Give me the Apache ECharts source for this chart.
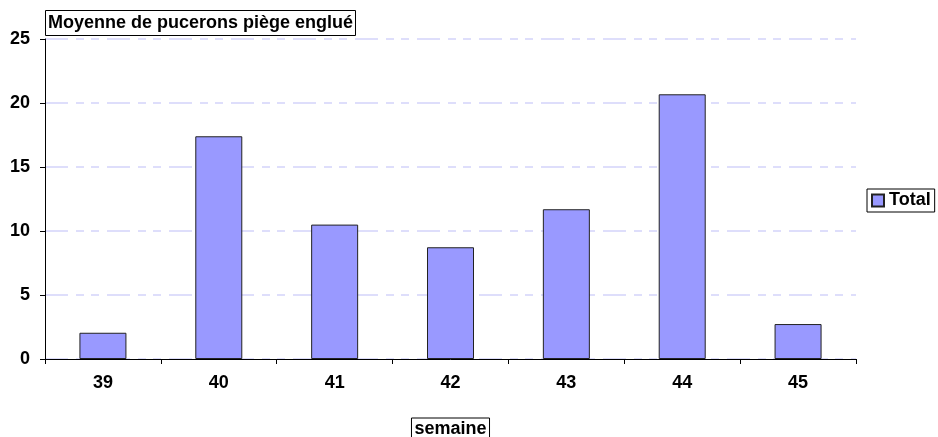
<!DOCTYPE html>
<html>
<head>
<meta charset="utf-8">
<script src="https://cdn.jsdelivr.net/npm/echarts@6/dist/echarts.min.js"></script>
<style>
html,body{margin:0;padding:0;background:#fff;overflow:hidden;}
#c{width:938px;height:437px;}
</style>
</head>
<body>
<div id="c"></div>
<script>
const categories = ['39', '40', '41', '42', '43', '44', '45'];
const totalValues = [2.05, 17.4, 10.5, 8.73, 11.7, 20.68, 2.73];
const yTicks = [0, 5, 10, 15, 20, 25];
const titleText = 'Moyenne de pucerons piège englué';
const xAxisName = 'semaine';
const seriesName = 'Total';

const FONT = '"Liberation Sans", Arial, sans-serif';
const chart = echarts.init(document.getElementById('c'), null, {renderer: 'canvas', width: 938, height: 437});
chart.setOption({
  animation: false,
  backgroundColor: '#ffffff',
  title: {
    text: titleText,
    left: 45,
    top: 10,
    padding: [4, 3, 3, 3],
    borderColor: '#000',
    borderWidth: 1,
    backgroundColor: '#fff',
    textStyle: {fontFamily: FONT, fontWeight: 'bold', fontSize: 18, lineHeight: 19, color: '#000'}
  },
  legend: {
    data: [seriesName],
    left: 867,
    top: 189,
    orient: 'vertical',
    padding: [2, 4, 2, 4],
    borderColor: '#000',
    borderWidth: 1,
    icon: 'rect',
    itemWidth: 12,
    itemHeight: 12,
    itemGap: 0,
    textStyle: {fontFamily: FONT, fontWeight: 'bold', fontSize: 18, lineHeight: 19, color: '#000'}
  },
  grid: {left: 45, top: 39, width: 811, height: 320, containLabel: false, outerBoundsMode: 'none'},
  xAxis: {
    type: 'category',
    data: categories,
    name: xAxisName,
    nameLocation: 'middle',
    nameGap: 59,
    nameTextStyle: {
      fontFamily: FONT, fontWeight: 'bold', fontSize: 18, lineHeight: 19, color: '#000',
      borderColor: '#000', borderWidth: 1, padding: [2, 3, 2, 3]
    },
    axisLine: {lineStyle: {color: '#000', width: 1}},
    axisTick: {show: true, length: 5, lineStyle: {color: '#000'}},
    axisLabel: {fontFamily: FONT, fontWeight: 'bold', fontSize: 18, color: '#000', margin: 15}
  },
  yAxis: {
    type: 'value',
    min: 0,
    max: 25,
    interval: 5,
    axisLine: {show: true, lineStyle: {color: '#000', width: 1}},
    axisTick: {show: true, length: 5, lineStyle: {color: '#000'}},
    axisLabel: {fontFamily: FONT, fontWeight: 'bold', fontSize: 18, color: '#000', margin: 15,
      formatter: v => yTicks.includes(v) ? String(v) : ''},
    splitLine: {show: true, lineStyle: {color: '#d4d4fa', width: 1.5, type: [23, 8, 8, 7, 8, 8]}}
  },
  series: [{
    name: seriesName,
    type: 'bar',
    data: totalValues,
    barWidth: 47,
    itemStyle: {color: '#9999ff', borderColor: '#222', borderWidth: 1}
  }]
});
</script>
</body>
</html>
